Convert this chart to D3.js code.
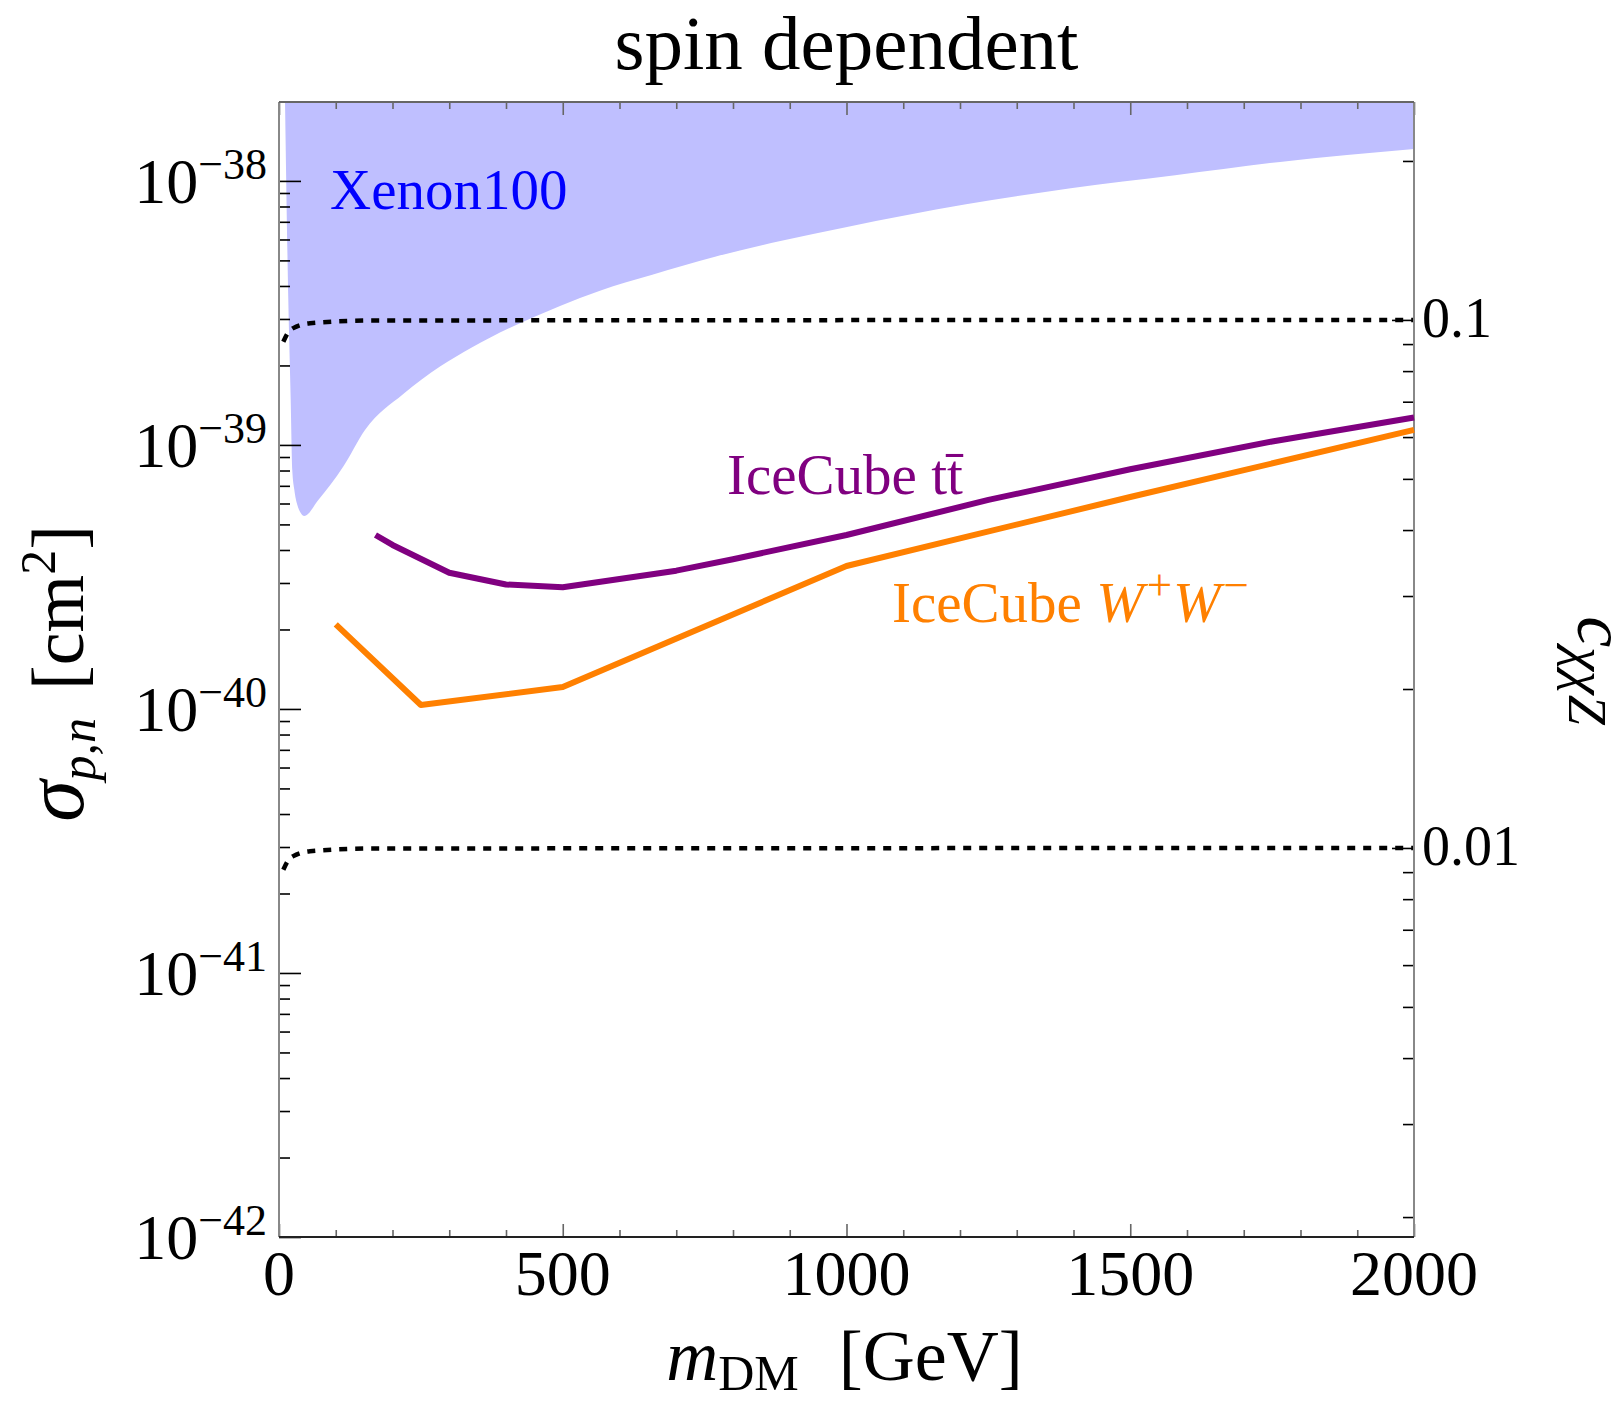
<!DOCTYPE html>
<html>
<head>
<meta charset="utf-8">
<script src="https://cdn.jsdelivr.net/npm/d3@7"></script>
<style>
  body { margin: 0; background: #fff; }
  text { font-family: "Liberation Serif", "Times New Roman", serif; fill: #000; }
</style>
</head>
<body>
<div id="wrapper"></div>
<script>
// 1. Data
// Xenon100 excluded region: lower edge (region fills up to the top of the frame)
const xenonMass  = [10.6, 16.4, 20.6, 23.4, 27.0, 32.2, 37.0, 44.6, 69.3, 113.3, 151.5, 219, 283.7, 339.6, 495.2, 565.6, 657.8, 768.3, 883.5, 998.8, 1210.6, 1395, 1579, 1764, 2000]
const xenonSigma = [2.0e-38, 3.54e-39, 1.48e-39, 8.04e-40, 6.76e-40, 5.93e-40, 5.58e-40, 5.38e-40, 6.19e-40, 8.28e-40, 1.14e-39, 1.56e-39, 1.98e-39, 2.34e-39, 3.36e-39, 3.84e-39, 4.41e-39, 5.16e-39, 5.92e-39, 6.68e-39, 8.15e-39, 9.38e-39, 1.05e-38, 1.18e-38, 1.32e-38]

// IceCube t tbar
const ttMass  = [170, 200, 300, 400, 500, 700, 800, 1000, 1250, 1500, 1750, 2000]
const ttSigma = [4.56e-40, 4.18e-40, 3.28e-40, 2.96e-40, 2.89e-40, 3.34e-40, 3.69e-40, 4.56e-40, 6.19e-40, 8.09e-40, 1.03e-39, 1.27e-39]

// IceCube W+W-
const wwMass  = [100, 250, 500, 1000, 1500, 2000]
const wwSigma = [2.09e-40, 1.035e-40, 1.21e-40, 3.48e-40, 6.35e-40, 1.14e-39]

// dotted lines of constant c (0.1 and 0.01)
const dotMass     = [7.6, 15.9, 25.2, 54.6, 165.6, 2000]
const dotSigma01  = [2.46e-39, 2.66e-39, 2.77e-39, 2.89e-39, 2.96e-39, 2.975e-39]
const dotSigma001 = [2.46e-41, 2.66e-41, 2.77e-41, 2.89e-41, 2.96e-41, 2.975e-41]

// sigma corresponding to c = 1 (right axis goes as sqrt)
const sigmaPerC2 = 2.975e-37

// ticks
const xMajor = [0, 500, 1000, 1500, 2000]
const yDecades = [-42, -41, -40, -39, -38]
const cMajor = [0.01, 0.1]
const cLabels = ["0.01", "0.1"]

// 2. Dimensions
let dimensions = {
  width: 1624,
  height: 1402,
  margin: { top: 102, right: 210, bottom: 165, left: 279 },
}
dimensions.boundedWidth = dimensions.width - dimensions.margin.left - dimensions.margin.right
dimensions.boundedHeight = dimensions.height - dimensions.margin.top - dimensions.margin.bottom
const bw = dimensions.boundedWidth
const bh = dimensions.boundedHeight

// 3. Canvas
const wrapper = d3.select("#wrapper")
  .append("svg")
    .attr("width", dimensions.width)
    .attr("height", dimensions.height)

const bounds = wrapper.append("g")
  .attr("transform", `translate(${dimensions.margin.left}, ${dimensions.margin.top})`)

bounds.append("clipPath").attr("id", "plot-clip")
  .append("rect").attr("width", bw).attr("height", bh)

// 4. Scales
const x = d3.scaleLinear().domain([0, 2000]).range([0, bw])
const y = d3.scaleLog().domain([1e-42, 1.99e-38]).range([bh, 0])
const c = d3.scaleLog()
  .domain(y.domain().map(s => Math.sqrt(s / sigmaPerC2)))
  .range([bh, 0])

// 5. Data
const plot = bounds.append("g").attr("clip-path", "url(#plot-clip)")

const xenonArea = d3.area()
  .x((d, i) => x(xenonMass[i]))
  .y0(0)
  .y1((d, i) => y(xenonSigma[i]))
  .curve(d3.curveMonotoneX)
plot.append("path")
  .datum(xenonMass)
  .attr("d", xenonArea)
  .attr("fill", "rgb(191,191,255)")
  .attr("stroke", "none")

const dotted = (sig) => d3.line()
  .x((d, i) => x(dotMass[i]))
  .y((d, i) => y(sig[i]))
  .curve(d3.curveMonotoneX)
;[dotSigma01, dotSigma001].forEach(sig => {
  plot.append("path")
    .datum(dotMass)
    .attr("d", dotted(sig))
    .attr("fill", "none")
    .attr("stroke", "#000")
    .attr("stroke-width", 4.5)
    .attr("stroke-dasharray", "8 8")
})

// 6. Peripherals: ticks
const drawTicks = (axisFn, scale, values, size, transform, color) => {
  const g = bounds.append("g")
    .attr("transform", transform)
    .call(axisFn(scale).tickValues(values).tickSize(-size).tickSizeOuter(0).tickFormat(""))
  g.select(".domain").remove()
  g.selectAll(".tick text").remove()
  g.selectAll(".tick line").attr("stroke", color).attr("stroke-width", 1.6)
}

const isDecade = v => Math.abs(Math.log10(v) - Math.round(Math.log10(v))) < 1e-6
const yMajorVals = yDecades.map(d => Math.pow(10, d))
const yMinorVals = y.ticks().filter(v => !isDecade(v))
const cMinorVals = c.ticks().filter(v => !isDecade(v))
const xMinor = d3.range(0, 2001, 100).filter(v => v % 500 != 0)

drawTicks(d3.axisLeft, y, yMinorVals, 11, "translate(0,0)", "#000")
drawTicks(d3.axisLeft, y, yMajorVals, 22, "translate(0,0)", "#000")
drawTicks(d3.axisRight, c, cMinorVals, 11, `translate(${bw},0)`, "#000")
drawTicks(d3.axisRight, c, cMajor, 22, `translate(${bw},0)`, "#000")
drawTicks(d3.axisBottom, x, xMinor, 7, `translate(0,${bh})`, "#666")
drawTicks(d3.axisBottom, x, xMajor, 13, `translate(0,${bh})`, "#666")
drawTicks(d3.axisTop, x, xMinor, 7, "translate(0,0)", "#666")
drawTicks(d3.axisTop, x, xMajor, 13, "translate(0,0)", "#666")

// frame
const frame = bounds.append("g")
frame.append("line").attr("x1", 0).attr("x2", 0).attr("y1", 0).attr("y2", bh).attr("stroke", "#888").attr("stroke-width", 2)
frame.append("line").attr("x1", bw).attr("x2", bw).attr("y1", 0).attr("y2", bh).attr("stroke", "#888").attr("stroke-width", 2)
frame.append("line").attr("x1", 0).attr("x2", bw).attr("y1", 0).attr("y2", 0).attr("stroke", "#666").attr("stroke-width", 2)
frame.append("line").attr("x1", 0).attr("x2", bw).attr("y1", bh).attr("y2", bh).attr("stroke", "#222").attr("stroke-width", 2)

// IceCube curves
const drawCurve = (mass, sigma, color) => {
  const line = d3.line()
    .x((d, i) => x(mass[i]))
    .y((d, i) => y(sigma[i]))
  bounds.append("path")
    .datum(mass)
    .attr("d", line)
    .attr("fill", "none")
    .attr("stroke", color)
    .attr("stroke-width", 6)
    .attr("stroke-linejoin", "round")
}
drawCurve(ttMass, ttSigma, "#800080")
drawCurve(wwMass, wwSigma, "#ff8000")

// tick labels
yDecades.forEach(d => {
  const t = bounds.append("text")
    .attr("x", -12)
    .attr("y", y(Math.pow(10, d)) + 22)
    .attr("text-anchor", "end")
  t.append("tspan").style("font-size", "64px").text("10")
  t.append("tspan").style("font-size", "44px").attr("dy", -24).text("\u2212" + (-d))
})

xMajor.forEach(v => {
  bounds.append("text")
    .attr("x", x(v))
    .attr("y", bh + 58)
    .attr("text-anchor", "middle")
    .style("font-size", "64px")
    .text(v)
})

cMajor.forEach((v, i) => {
  bounds.append("text")
    .attr("x", bw + 8)
    .attr("y", c(v) + 17)
    .style("font-size", "56px")
    .text(cLabels[i])
})

// title
bounds.append("text")
  .attr("x", bw / 2)
  .attr("y", -33)
  .attr("text-anchor", "middle")
  .style("font-size", "77px")
  .text("spin dependent")

// x label
const xl = bounds.append("text")
  .attr("x", bw / 2 - 2)
  .attr("y", bh + 143)
  .attr("text-anchor", "middle")
  .style("font-size", "72px")
xl.append("tspan").style("font-style", "italic").text("m")
xl.append("tspan").style("font-size", "50px").attr("dy", 10).text("DM")
xl.append("tspan").attr("dy", -10).attr("dx", 40).text("[GeV]")

// y label
const yl = bounds.append("text")
  .attr("transform", `translate(-196, ${bh / 2 + 4}) rotate(-90)`)
  .attr("text-anchor", "middle")
  .style("font-size", "74px")
yl.append("tspan").style("font-style", "italic").style("font-size", "84px").text("\u03c3")
yl.append("tspan").style("font-style", "italic").style("font-size", "50px").attr("dy", 12).text("p,n")
yl.append("tspan").attr("dy", -12).attr("dx", 28).text("[cm")
yl.append("tspan").style("font-size", "50px").attr("dy", -28).text("2")
yl.append("tspan").attr("dy", 28).text("]")

// right label
const rl = bounds.append("text")
  .attr("transform", `translate(${1578 - dimensions.margin.left}, ${bh / 2 + 1}) rotate(90)`)
  .attr("text-anchor", "middle")
  .style("font-size", "70px")
rl.append("tspan").style("font-style", "italic").text("c")
rl.append("tspan").style("font-style", "italic").style("font-size", "54px").attr("dy", 9).text("\u03c7\u03c7Z")

// curve labels
bounds.append("text")
  .attr("x", 51).attr("y", 107)
  .style("font-size", "57px")
  .style("fill", "#0000ff")
  .text("Xenon100")

bounds.append("text")
  .attr("x", 448).attr("y", 392)
  .style("font-size", "57px")
  .style("fill", "#800080")
  .text("IceCube tt\u0304")

const wwl = bounds.append("text")
  .attr("x", 613).attr("y", 520)
  .style("font-size", "57px")
  .style("fill", "#ff8000")
wwl.append("tspan").text("IceCube ")
wwl.append("tspan").style("font-style", "italic").text("W")
wwl.append("tspan").style("font-size", "45px").attr("dx", 3).attr("dy", -22).text("+")
wwl.append("tspan").style("font-style", "italic").attr("dx", 1).attr("dy", 22).text("W")
wwl.append("tspan").style("font-size", "45px").attr("dx", 3).attr("dy", -22).text("\u2212")
</script>
</body>
</html>
